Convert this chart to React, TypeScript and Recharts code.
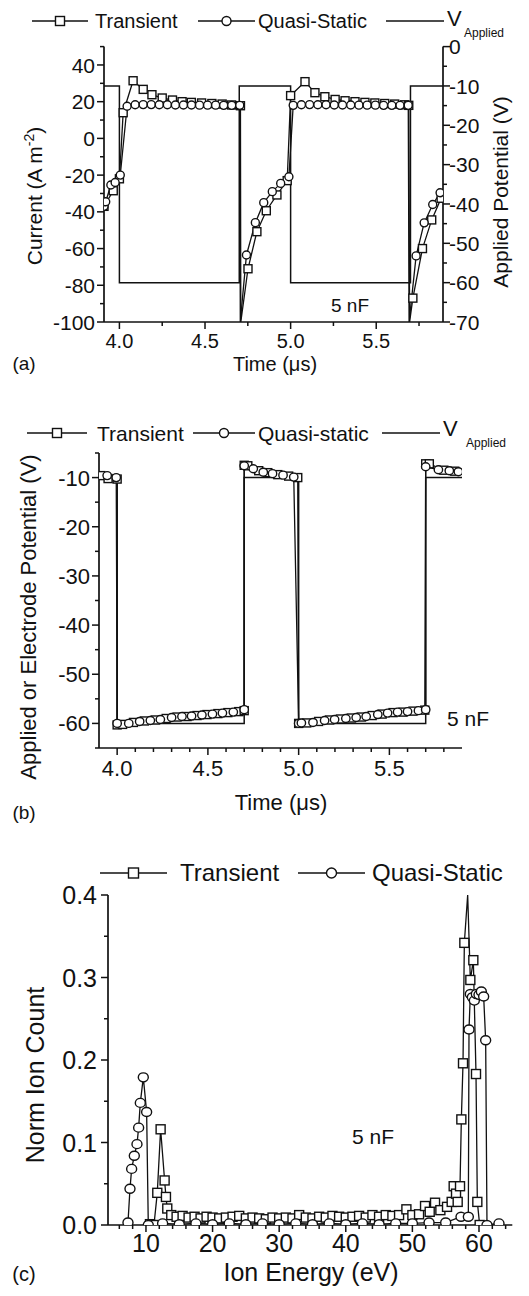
import React from "react";
import { LineChart, Line, XAxis, YAxis } from "recharts";

type Pt = [number, number];

const FONT = '"Liberation Sans", Arial, Helvetica, sans-serif';
const INK = "#111";

// ---------- (a) current and applied potential vs time ----------
const timeTicksA = [4.0, 4.5, 5.0, 5.5];
const timeMinorA = [4.25, 4.75, 5.25, 5.75];
const currentTicks = [-100, -80, -60, -40, -20, 0, 20, 40];
const currentMinor = [-90, -70, -50, -30, -10, 10, 30, 50];
const appliedTicksA = [-70, -60, -50, -40, -30, -20, -10, 0];
const appliedMinorA = [-65, -55, -45, -35, -25, -15, -5];

const transientA: Pt[] = [
  [3.91, -37], [3.964, -28.5], [4.0, -22], [4.022, 14], [4.08, 31.4], [4.139, 26.7],
  [4.19, 23.8], [4.25, 22], [4.31, 20.9], [4.366, 20], [4.42, 19.6], [4.48, 19.3],
  [4.54, 19], [4.6, 18.7], [4.655, 18.2], [4.707, 17.8], [4.709, -100], [4.751, -71],
  [4.803, -50.8], [4.858, -39.4], [4.92, -30.8], [4.98, -23], [5.0, 23.3], [5.084, 30.9],
  [5.142, 24.9], [5.2, 22.7], [5.26, 21.2], [5.318, 20.5], [5.376, 20], [5.434, 19.6],
  [5.492, 19.3], [5.55, 19], [5.608, 18.7], [5.666, 18.3], [5.69, 18], [5.695, -100],
  [5.714, -87], [5.77, -60], [5.824, -44.4], [5.879, -32.6],
];

const quasiStaticA: Pt[] = [
  [3.91, -37], [3.92, -34.5], [3.95, -25.4], [3.975, -24], [4.005, -20],
  [4.045, 17.5], [4.092, 18.3], [4.139, 18.4], [4.186, 18.4], [4.233, 18.3], [4.28, 18.3],
  [4.327, 18.2], [4.374, 18.2], [4.421, 18.2], [4.468, 18.1], [4.515, 18.1], [4.562, 18.1],
  [4.609, 18], [4.656, 18], [4.703, 18], [4.706, -100], [4.742, -63.5], [4.794, -45.9],
  [4.843, -35], [4.893, -29], [4.942, -24.5], [4.99, -20.9],
  [5.015, 18], [5.063, 18.3], [5.111, 18.4], [5.159, 18.3], [5.207, 18.3], [5.255, 18.2],
  [5.303, 18.2], [5.351, 18.2], [5.399, 18.1], [5.447, 18.1], [5.495, 18.1], [5.543, 18],
  [5.591, 18], [5.639, 18], [5.687, 18], [5.692, -100], [5.733, -64], [5.78, -46],
  [5.83, -36], [5.873, -29.6],
];

const vAppliedA: Pt[] = [
  [3.91, -10], [4.0, -10], [4.0, -60], [4.7, -60], [4.7, -10], [5.0, -10],
  [5.0, -60], [5.7, -60], [5.7, -10], [5.89, -10],
];

// ---------- (b) applied / electrode potential vs time ----------
const timeTicksB = [4.0, 4.5, 5.0, 5.5];
const timeMinorB = [4.1, 4.2, 4.3, 4.4, 4.6, 4.7, 4.8, 4.9, 5.1, 5.2, 5.3, 5.4, 5.6, 5.7, 5.8];
const potentialTicksB = [-60, -50, -40, -30, -20, -10];
const potentialMinorB = [-65, -55, -45, -35, -25, -15, -5];

const transientB: Pt[] = [
  [3.91, -9.6], [3.95, -10.2], [4.0, -10.3], [4.0, -60.3], [4.03, -60.2], [4.09, -59.8],
  [4.15, -59.5], [4.21, -59.3], [4.27, -59], [4.33, -58.7], [4.385, -58.6], [4.44, -58.4],
  [4.495, -58.2], [4.555, -58], [4.61, -57.8], [4.67, -57.6], [4.7, -57.4], [4.7, -7.5],
  [4.72, -7.6], [4.78, -8.6], [4.83, -9], [4.885, -9.4], [4.945, -9.7], [4.995, -10],
  [5.0, -60], [5.045, -59.9], [5.11, -59.6], [5.17, -59.3], [5.23, -59.1], [5.29, -58.9],
  [5.345, -58.7], [5.405, -58.4], [5.46, -58.1], [5.52, -57.8], [5.575, -57.7], [5.63, -57.5],
  [5.695, -57.3], [5.7, -7.2], [5.72, -7.2], [5.8, -8.5], [5.86, -8.7],
];

const quasiStaticB: Pt[] = [
  [3.945, -9.6], [3.995, -10], [4.0, -60], [4.064, -60], [4.124, -59.6], [4.183, -59.4],
  [4.238, -59.2], [4.3, -58.8], [4.357, -58.6], [4.41, -58.5], [4.467, -58.3], [4.525, -58.1],
  [4.58, -57.9], [4.64, -57.7], [4.7, -57.2], [4.7, -7.6], [4.75, -8.2], [4.805, -8.9],
  [4.856, -9.2], [4.914, -9.5], [4.973, -9.9], [5.0, -60], [5.015, -59.9], [5.079, -59.8],
  [5.143, -59.4], [5.198, -59.2], [5.26, -59], [5.317, -58.8], [5.372, -58.6], [5.436, -58.2],
  [5.49, -57.9], [5.545, -57.7], [5.6, -57.6], [5.66, -57.4], [5.7, -57.2], [5.7, -7.8],
  [5.77, -8.4], [5.83, -8.6], [5.88, -8.8],
];

const vAppliedB: Pt[] = [
  [3.9, -10], [4.0, -10], [4.0, -60], [4.7, -60], [4.7, -10], [5.0, -10],
  [5.0, -60], [5.7, -60], [5.7, -10], [5.9, -10],
];

// ---------- (c) ion energy distribution ----------
const energyTicks = [10, 20, 30, 40, 50, 60];
const energyMinor = [
  6, 8, 12, 14, 16, 18, 22, 24, 26, 28, 32, 34, 36, 38, 42, 44, 46, 48, 52, 54, 56, 58, 62, 64,
];
const countTicks = [0, 0.1, 0.2, 0.3, 0.4];
const countMinor = [0.05, 0.15, 0.25, 0.35];

const transientC: Pt[] = [
  [10.6, 0.001], [11.2, 0.0], [11.7, 0.039], [12.2, 0.116], [12.8, 0.054], [13.0, 0.034],
  [13.2, 0.02], [13.8, 0.012], [14.6, 0.01], [15.5, 0.011], [16.4, 0.009], [17.3, 0.01],
  [18.2, 0.008], [19.1, 0.01], [20, 0.009], [21, 0.008], [22, 0.009], [23, 0.01],
  [24, 0.011], [25, 0.008], [26, 0.009], [27, 0.008], [28, 0.007], [29, 0.009],
  [30, 0.008], [31, 0.009], [32, 0.008], [33, 0.012], [34, 0.009], [35, 0.008],
  [36, 0.01], [37, 0.009], [38, 0.011], [39, 0.01], [40, 0.009], [41, 0.01],
  [42, 0.011], [43, 0.009], [44, 0.012], [45, 0.01], [46, 0.012], [47, 0.011],
  [48, 0.012], [49.1, 0.019], [50, 0.012], [51, 0.013], [51.9, 0.023], [52.6, 0.016],
  [53.4, 0.027], [54.2, 0.018], [55.2, 0.022], [55.9, 0.028], [56.2, 0.047], [56.55, 0.038],
  [56.8, 0.028], [57.15, 0.047], [57.35, 0.128], [57.6, 0.196], [57.8, 0.342], [58.3, 0.4],
  [58.7, 0.297], [59.15, 0.321], [59.55, 0.183], [59.75, 0.028], [60.1, 0.0],
];

const quasiStaticC: Pt[] = [
  [7.3, 0.003], [7.6, 0.044], [7.85, 0.068], [8.25, 0.084], [8.65, 0.098], [8.9, 0.118],
  [9.15, 0.148], [9.6, 0.179], [10.1, 0.137], [10.35, 0.0], [12.5, 0.002], [15, 0.001],
  [17.5, 0.002], [20, 0.001], [22.5, 0.002], [25, 0.001], [27.5, 0.002], [30, 0.001],
  [32.5, 0.002], [35, 0.001], [37.5, 0.002], [40, 0.001], [42.5, 0.002], [45, 0.001],
  [47.5, 0.002], [50, 0.002], [52.5, 0.003], [55, 0.003], [57.3, 0.01], [58.4, 0.01],
  [58.5, 0.237], [58.7, 0.28], [59.0, 0.276], [59.3, 0.272], [59.6, 0.28], [60.0, 0.279],
  [60.35, 0.283], [60.7, 0.277], [61.0, 0.224], [61.2, 0.0], [63, 0.002],
];

const rows = (pts: Pt[]) => pts.map(([x, y]) => ({ x, y }));

const isIn = (list: number[], v: number) => list.some((m) => Math.abs(m - v) < 1e-6);
const tickStroke = { stroke: INK, strokeWidth: 1.5 };
const axisLine = { stroke: INK, strokeWidth: 1.7 };

// axes boxes get a real size; margins are chosen so the plot area lands where the reference has it
const AX_W = 40;
const AX_H = 30;

function bottomTick(major: number[], fmt: (v: number) => string, fontSize: number, baseline: number) {
  return (p: any) => {
    const v = p.payload.value;
    const big = isIn(major, v);
    return (
      <g>
        <line x1={p.x} y1={p.y} x2={p.x} y2={p.y + (big ? 7 : 4)} {...tickStroke} />
        {big && (
          <text x={p.x} y={p.y + baseline} textAnchor="middle" fontSize={fontSize} fontFamily={FONT} fill={INK}>
            {fmt(v)}
          </text>
        )}
      </g>
    );
  };
}

function sideTick(side: "left" | "right", major: number[], fmt: (v: number) => string, fontSize: number, gap: number) {
  const dir = side === "left" ? -1 : 1;
  return (p: any) => {
    const v = p.payload.value;
    const big = isIn(major, v);
    return (
      <g>
        <line x1={p.x} y1={p.y} x2={p.x + dir * (big ? 7 : 4)} y2={p.y} {...tickStroke} />
        {big && (
          <text
            x={p.x + dir * gap}
            y={p.y}
            dy="0.36em"
            textAnchor={side === "left" ? "end" : "start"}
            fontSize={fontSize}
            fontFamily={FONT}
            fill={INK}
          >
            {fmt(v)}
          </text>
        )}
      </g>
    );
  };
}

function squareDot(size: number, hide: (v: number) => boolean) {
  return (p: any) => {
    const { cx, cy, index, payload } = p;
    if (cx == null || cy == null || hide(payload.y)) return <g key={`s${index}`} />;
    return (
      <rect key={`s${index}`} x={cx - size / 2} y={cy - size / 2} width={size} height={size} fill="#fff" stroke={INK} strokeWidth={1.4} />
    );
  };
}

function circleDot(rx: number, ry: number, hide: (v: number) => boolean) {
  return (p: any) => {
    const { cx, cy, index, payload } = p;
    if (cx == null || cy == null || hide(payload.y)) return <g key={`c${index}`} />;
    return <ellipse key={`c${index}`} cx={cx} cy={cy} rx={rx} ry={ry} fill="#fff" stroke={INK} strokeWidth={1.4} />;
  };
}

const sorted = (a: number[], b: number[]) => [...a, ...b].sort((m, n) => m - n);

function Txt({ x, y, size, anchor = "middle", children }: any) {
  return (
    <div
      style={{
        position: "absolute",
        left: x,
        top: y,
        transform: anchor === "middle" ? "translate(-50%, -50%)" : "translate(0, -50%)",
        fontSize: size,
        lineHeight: 1,
        whiteSpace: "nowrap",
      }}
    >
      {children}
    </div>
  );
}

function VTxt({ x, y, size, children }: any) {
  return (
    <div
      style={{
        position: "absolute",
        left: x,
        top: y,
        transform: "translate(-50%, -50%) rotate(-90deg)",
        fontSize: size,
        lineHeight: 1,
        whiteSpace: "nowrap",
      }}
    >
      {children}
    </div>
  );
}

function LegendIcon({ left, right, cy, marker, size }: any) {
  const w = right - left;
  return (
    <svg style={{ position: "absolute", left, top: cy - 10 }} width={w} height={20}>
      <line x1={0} y1={10} x2={w} y2={10} stroke={INK} strokeWidth={1.4} />
      {marker === "square" && (
        <rect x={w / 2 - size / 2} y={10 - size / 2} width={size} height={size} fill="#fff" stroke={INK} strokeWidth={1.4} />
      )}
      {marker === "circle" && <circle cx={w / 2} cy={10} r={size / 2} fill="#fff" stroke={INK} strokeWidth={1.4} />}
    </svg>
  );
}

const noMarkLow = (v: number) => v <= -100;
const noMarkPeak = (v: number) => v >= 0.399;
const fmt1 = (v: number) => v.toFixed(1);
const fmt0 = (v: number) => String(v);

function PanelA() {
  return (
    <>
      <div style={{ position: "absolute", left: 0, top: 0 }}>
        <LineChart width={529} height={380} margin={{ top: 46.6, right: 86 - AX_W, bottom: 58 - AX_H, left: 104 - AX_W }}>
          <XAxis
            dataKey="x"
            type="number"
            domain={[3.91, 5.89]}
            allowDataOverflow
            ticks={sorted(timeTicksA, timeMinorA)}
            interval={0}
            height={AX_H}
            tickLine={false}
            tickSize={0}
            tickMargin={0}
            axisLine={axisLine}
            tick={bottomTick(timeTicksA, fmt1, 20, 26)}
          />
          <YAxis
            yAxisId="cur"
            type="number"
            domain={[-100, 50]}
            allowDataOverflow
            ticks={sorted(currentTicks, currentMinor)}
            interval={0}
            width={AX_W}
            tickLine={false}
            tickSize={0}
            tickMargin={0}
            axisLine={axisLine}
            tick={sideTick("left", currentTicks, fmt0, 21, 9)}
          />
          <YAxis
            yAxisId="pot"
            orientation="right"
            type="number"
            domain={[-70, 0]}
            allowDataOverflow
            ticks={sorted(appliedTicksA, appliedMinorA)}
            interval={0}
            width={AX_W}
            tickLine={false}
            tickSize={0}
            tickMargin={0}
            axisLine={axisLine}
            tick={sideTick("right", appliedTicksA, fmt0, 21, 6)}
          />
          <Line yAxisId="pot" data={rows(vAppliedA)} dataKey="y" type="linear" stroke={INK} strokeWidth={1.5} dot={false} isAnimationActive={false} />
          <Line yAxisId="cur" data={rows(transientA)} dataKey="y" type="linear" stroke={INK} strokeWidth={1.3} dot={squareDot(8, noMarkLow)} isAnimationActive={false} />
          <Line yAxisId="cur" data={rows(quasiStaticA)} dataKey="y" type="linear" stroke={INK} strokeWidth={1.3} dot={circleDot(4, 4, noMarkLow)} isAnimationActive={false} />
        </LineChart>
      </div>
      <LegendIcon left={32} right={88} cy={21} marker="square" size={9} />
      <Txt x={95} y={21} size={20} anchor="start">Transient</Txt>
      <LegendIcon left={198} right={255} cy={21} marker="circle" size={9} />
      <Txt x={258} y={21} size={20} anchor="start">Quasi-Static</Txt>
      <LegendIcon left={386} right={444} cy={21} marker="none" size={0} />
      <Txt x={447} y={19} size={22} anchor="start">V</Txt>
      <Txt x={464} y={33} size={12} anchor="start">Applied</Txt>
      <VTxt x={33} y={196} size={21}>
        Current (A m<sup style={{ fontSize: 14 }}>-2</sup>)
      </VTxt>
      <VTxt x={500} y={192} size={21}>Applied Potential (V)</VTxt>
      <Txt x={275} y={364} size={20}>Time (μs)</Txt>
      <Txt x={24} y={363} size={19}>(a)</Txt>
      <Txt x={350} y={305} size={19}>5 nF</Txt>
    </>
  );
}

function PanelB() {
  return (
    <>
      <div style={{ position: "absolute", left: 0, top: 420 }}>
        <LineChart width={529} height={380} margin={{ top: 33, right: 67, bottom: 52 - AX_H, left: 99 - AX_W }}>
          <XAxis
            dataKey="x"
            type="number"
            domain={[3.9, 5.9]}
            allowDataOverflow
            ticks={sorted(timeTicksB, timeMinorB)}
            interval={0}
            height={AX_H}
            tickLine={false}
            tickSize={0}
            tickMargin={0}
            axisLine={axisLine}
            tick={bottomTick(timeTicksB, fmt1, 22, 28)}
          />
          <YAxis
            type="number"
            domain={[-65, -5]}
            allowDataOverflow
            ticks={sorted(potentialTicksB, potentialMinorB)}
            interval={0}
            width={AX_W}
            tickLine={false}
            tickSize={0}
            tickMargin={0}
            axisLine={axisLine}
            tick={sideTick("left", potentialTicksB, fmt0, 22, 9)}
          />
          <Line data={rows(vAppliedB)} dataKey="y" type="linear" stroke={INK} strokeWidth={1.5} dot={false} isAnimationActive={false} />
          <Line data={rows(transientB)} dataKey="y" type="linear" stroke={INK} strokeWidth={1.3} dot={squareDot(8, () => false)} isAnimationActive={false} />
          <Line data={rows(quasiStaticB)} dataKey="y" type="linear" stroke={INK} strokeWidth={1.3} dot={circleDot(4.2, 4, () => false)} isAnimationActive={false} />
        </LineChart>
      </div>
      <LegendIcon left={27} right={87} cy={433} marker="square" size={9} />
      <Txt x={97} y={433} size={21} anchor="start">Transient</Txt>
      <LegendIcon left={193} right={255} cy={433} marker="circle" size={9} />
      <Txt x={258} y={433} size={21} anchor="start">Quasi-static</Txt>
      <LegendIcon left={382} right={440} cy={433} marker="none" size={0} />
      <Txt x={443} y={429} size={22} anchor="start">V</Txt>
      <Txt x={466} y={443} size={12} anchor="start">Applied</Txt>
      <VTxt x={29} y={617} size={22}>Applied or Electrode Potential (V)</VTxt>
      <Txt x={281} y={803} size={22}>Time (μs)</Txt>
      <Txt x={24} y={812} size={19}>(b)</Txt>
      <Txt x={468} y={718} size={21}>5 nF</Txt>
    </>
  );
}

function PanelC() {
  return (
    <>
      <div style={{ position: "absolute", left: 0, top: 850 }}>
        <LineChart width={529} height={446} margin={{ top: 45, right: 16.7, bottom: 71 - AX_H, left: 108 - AX_W }}>
          <XAxis
            dataKey="x"
            type="number"
            domain={[4.3, 65]}
            allowDataOverflow
            ticks={sorted(energyTicks, energyMinor)}
            interval={0}
            height={AX_H}
            tickLine={false}
            tickSize={0}
            tickMargin={0}
            axisLine={axisLine}
            tick={bottomTick(energyTicks, fmt0, 25, 27)}
          />
          <YAxis
            type="number"
            domain={[0, 0.4]}
            allowDataOverflow
            ticks={sorted(countTicks, countMinor)}
            interval={0}
            width={AX_W}
            tickLine={false}
            tickSize={0}
            tickMargin={0}
            axisLine={axisLine}
            tick={sideTick("left", countTicks, fmt1, 25, 11)}
          />
          <Line data={rows(transientC)} dataKey="y" type="linear" stroke={INK} strokeWidth={1.3} dot={squareDot(9, noMarkPeak)} isAnimationActive={false} />
          <Line data={rows(quasiStaticC)} dataKey="y" type="linear" stroke={INK} strokeWidth={1.3} dot={circleDot(5, 4.5, noMarkPeak)} isAnimationActive={false} />
        </LineChart>
      </div>
      <LegendIcon left={100} right={167} cy={873} marker="square" size={10} />
      <Txt x={180} y={873} size={24} anchor="start">Transient</Txt>
      <LegendIcon left={298} right={365} cy={873} marker="circle" size={10} />
      <Txt x={372} y={873} size={24} anchor="start">Quasi-Static</Txt>
      <VTxt x={35} y={1075} size={25}>Norm Ion Count</VTxt>
      <Txt x={311} y={1272} size={25}>Ion Energy (eV)</Txt>
      <Txt x={24} y={1274} size={20}>(c)</Txt>
      <Txt x={373} y={1136} size={21}>5 nF</Txt>
    </>
  );
}

export default function App() {
  return (
    <div
      style={{
        position: "absolute",
        left: 0,
        top: 0,
        width: 529,
        height: 1296,
        background: "#fff",
        color: INK,
        fontFamily: FONT,
        overflow: "hidden",
      }}
    >
      <PanelA />
      <PanelB />
      <PanelC />
    </div>
  );
}
